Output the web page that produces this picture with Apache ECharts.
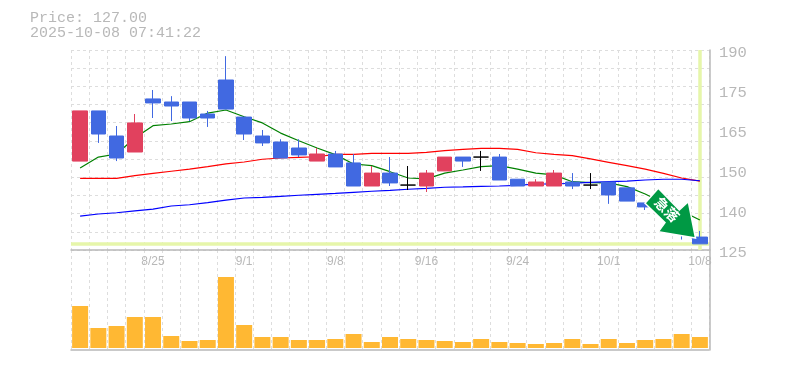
<!DOCTYPE html>
<html>
<head>
<meta charset="utf-8">
<style>html,body{margin:0;padding:0;background:#fff}#c{width:785px;height:370px}</style>
<script src="https://cdn.jsdelivr.net/npm/echarts@6/dist/echarts.min.js"></script>
</head>
<body>
<div id="c"></div>
<script>
const dates = ['8/19','8/20','8/21','8/22','8/25','8/26','8/27','8/28','8/29','9/1','9/2','9/3','9/4','9/5','9/8','9/9','9/10','9/11','9/12','9/16','9/17','9/18','9/19','9/22','9/24','9/25','9/26','9/29','9/30','10/1','10/2','10/3','10/6','10/7','10/8'];
const opens  = [153.9,170.2,162.05,156.85,174.1,173.1,173.1,169.2,180.25,168.2,162.05,160.1,158.15,153.9,156.2,153.3,145.8,150,146.1,145.8,150.7,155.2,155.2,155.2,148,145.8,145.8,147.1,146.1,147.1,145.2,140.3,140.3,136,129.2];
const closes = [170.2,162.7,154.9,166.3,172.8,171.8,167.9,167.9,170.8,162.7,159.8,154.9,155.9,156.2,152,145.8,150,146.8,146.1,150,155.2,153.9,155.2,147.75,145.8,147.1,150,145.8,146.1,142.9,140.9,139,138,131,127];
const lows   = [153.9,159.8,153.9,156.85,167.9,166.9,166.9,165,170.8,160.75,158.8,154.9,155.2,153.9,152,145.8,145.8,145.8,144.5,143.85,150.7,152,150.7,147.75,145.8,145.8,145.8,144.8,144.8,140,140.9,138,138,128.4,127];
const highs  = [170.2,170.2,165.3,169.2,177,175,173.1,170.2,188,168.2,164,161,161,158.15,157.2,156.2,152.3,155.2,152.3,151,155.2,155.2,157.2,156.2,148,148,151,150,150,147.1,145.2,140.3,140.3,136,131.2];
const volumes = [42,20,22,31,31,12,7,8,71,23,11,11,8,8,9,14,6,11,9,8,7,6,9,6,5,4,5,9,4,9,5,8,9,14,11];
const ma5  = [151.65,155.2,156.2,161.4,165.4,165.95,166.7,169.5,170.5,168.3,166.3,163,160.5,158.15,156,152.95,152.4,150.45,148.4,148.1,150,151,152.1,152.4,151.3,150,149.4,147.2,146.9,146.8,145.6,143.2,140.3,137.7,134.75];
const ma25 = [148.3,148.3,148.3,149.15,149.9,150.6,151.3,152.1,153,153.6,154.5,154.9,155.1,155.3,156.1,156.1,156.4,156.4,156.4,156.75,157.3,157.7,158.05,158.05,157.7,156.6,156.1,155.65,154.6,153.5,152.4,151.3,149.9,148.4,147.4];
const ma75 = [136,136.7,137.1,137.7,138.3,139.3,139.7,140.4,141.2,141.9,142.1,142.45,142.8,143.1,143.4,143.75,144.1,144.4,144.75,145.05,145.4,145.5,145.7,145.8,146,146.45,146.45,146.7,147,147.2,147.4,147.75,148,148,147.5];
const yTickValues = [125,138,151,164,177,190];
const yTickLabels = ['125','140','150','165','175','190'];
const lastPrice = 127;
const titleLines = ['Price: 127.00','2025-10-08 07:41:22'];

const RED = '#E1415E', BLUE = '#4169E1', GREY = '#B8B8B8', GRID = '#DDDDDD', YEL = '#E6F6AA';
const splitValues = [];
for (let k = 0; k <= 11; k++) splitValues.push(125 + k * 65 / 11);

const candles = dates.map((d, i) => {
  const item = { value: [opens[i], closes[i], lows[i], highs[i]] };
  if (opens[i] === closes[i]) {
    item.itemStyle = { color: '#000', color0: '#000', borderColor: '#000', borderColor0: '#000', borderColorDoji: '#000' };
  }
  return item;
});
const line = (name, data, color, extra) => Object.assign({
  name, type: 'line', data, xAxisIndex: 0, yAxisIndex: 0, symbol: 'none', smooth: false, z: 2,
  lineStyle: { color, width: 1.2 }
}, extra || {});

const chart = echarts.init(document.getElementById('c'), null, { renderer: 'canvas' });
chart.setOption({
  animation: false,
  backgroundColor: '#fff',
  title: {
    text: titleLines.join('\n'), left: 30, top: 11, padding: 0,
    textStyle: { fontFamily: 'Liberation Mono', fontSize: 15, fontWeight: 'normal', color: GREY, lineHeight: 15 }
  },
  grid: [
    { left: 71, top: 50, width: 638, height: 200 },
    { left: 71, top: 250, width: 638, height: 100 }
  ],
  xAxis: [
    { type: 'category', data: dates, gridIndex: 0, boundaryGap: true,
      axisLine: { show: true, lineStyle: { color: GREY, width: 1.5 } }, axisTick: { show: false },
      splitLine: { show: true, interval: 0, lineStyle: { color: GRID, type: [3, 3], width: 1 } },
      axisLabel: { show: true, interval: (i) => i % 5 === 4, hideOverlap: false, margin: 6, color: GREY, fontFamily: 'Liberation Sans', fontSize: 12 } },
    { type: 'category', data: dates, gridIndex: 1, boundaryGap: true,
      axisLine: { show: true, onZero: false, lineStyle: { color: GREY, width: 1.5 } }, axisTick: { show: false }, axisLabel: { show: false },
      splitLine: { show: true, interval: 0, lineStyle: { color: GRID, type: [3, 3], width: 1 } } }
  ],
  yAxis: [
    { type: 'value', gridIndex: 0, position: 'right', offset: 1, min: 125, max: 190, scale: true,
      axisLine: { show: true, lineStyle: { color: GREY, width: 1.5 } },
      axisTick: { show: false, customValues: splitValues },
      splitLine: { show: true, lineStyle: { color: GRID, type: [3, 3], width: 1 } },
      axisLabel: { show: true, customValues: yTickValues, margin: 9, color: GREY,
        fontFamily: 'Liberation Mono', fontSize: 15.5, verticalAlign: 'top', lineHeight: 6,
        formatter: (v) => yTickLabels[yTickValues.indexOf(v)] } },
    { type: 'value', gridIndex: 1, position: 'right', offset: 1, min: -2, max: 98,
      axisLine: { show: true, lineStyle: { color: GREY, width: 1.5 } },
      axisTick: { show: false }, axisLabel: { show: false }, splitLine: { show: false } }
  ],
  series: [
    line('MA5', ma5, '#008000'),
    line('MA25', ma25, '#FF0000'),
    line('MA75', ma75, '#0000FF', {
      markLine: {
        silent: true, symbol: 'none', z: 1, animation: false, label: { show: false },
        lineStyle: { color: YEL, type: 'solid', width: 3.5 },
        data: [{ yAxis: lastPrice }, { xAxis: dates[dates.length - 1] }]
      }
    }),
    { name: 'Price', type: 'candlestick', data: candles, xAxisIndex: 0, yAxisIndex: 0, barWidth: 15, z: 3,
      itemStyle: { color: RED, color0: BLUE, borderColor: RED, borderColor0: BLUE, borderWidth: 1 } },
    { name: 'Volume', type: 'bar', data: volumes, xAxisIndex: 1, yAxisIndex: 1, barWidth: 16,
      itemStyle: { color: '#FFB833' } }
  ],
  graphic: [
    { type: 'polygon', z: 100, shape: { points: [[658.3,188.3],[679.3,210],[688.3,201.7],[695.5,238],[658.3,231.7],[665,222.7],[645,203.3]] },
      style: { fill: '#009944', stroke: '#fff', lineWidth: 1.5 } },
    { type: 'text', z: 101, x: 667, y: 209.5, rotation: -Math.PI / 4,
      style: { text: '急落', fill: '#fff', font: 'bold 14px "Noto Sans CJK JP"', align: 'center', verticalAlign: 'middle' } }
  ]
});
</script>
</body>
</html>
